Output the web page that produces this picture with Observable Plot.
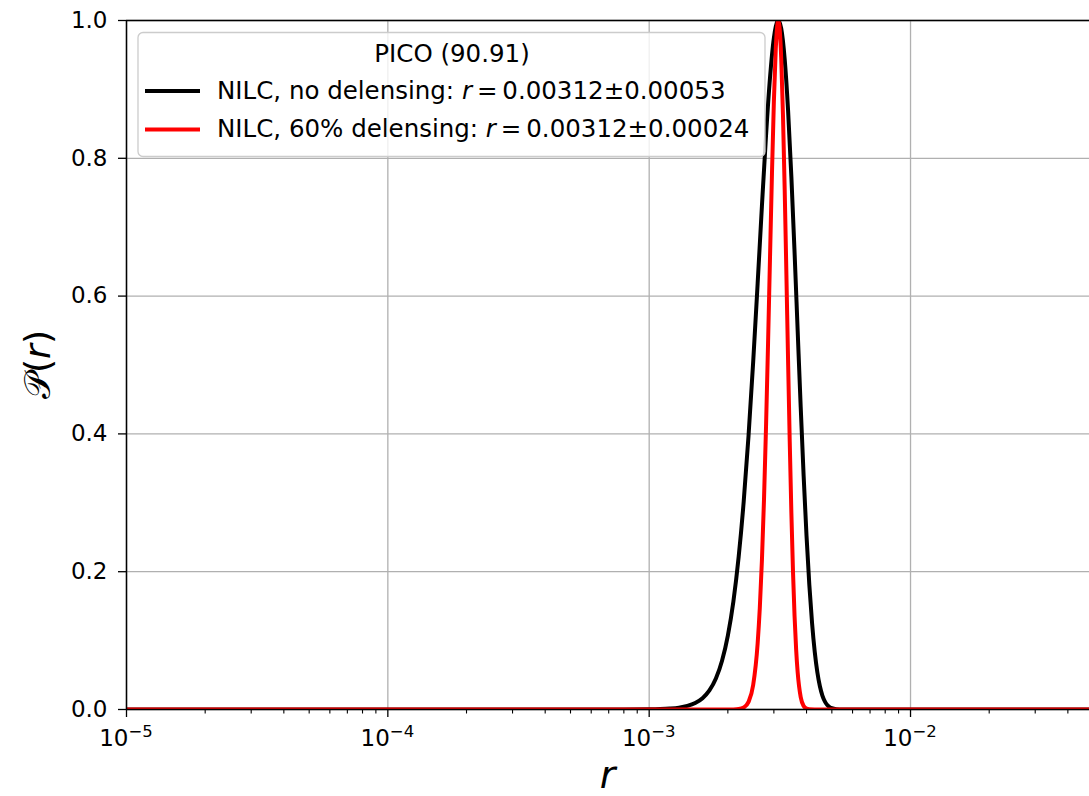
<!DOCTYPE html>
<html><head><meta charset="utf-8">
<script src="https://cdn.jsdelivr.net/npm/d3@7"></script>
<script src="https://cdn.jsdelivr.net/npm/@observablehq/plot@0.6"></script>
<style>body{margin:0;background:#fff} svg{display:block}</style>
</head><body><div id="chart"></div>
<script>
// NILC, no delensing
const rBlack = [0.00001, 0.0008, 0.0010, 0.0011, 0.0012, 0.0013, 0.0014, 0.0015, 0.0016, 0.0017, 0.0018, 0.0019, 0.0020, 0.0021, 0.0022, 0.0023, 0.0024, 0.0025, 0.0026, 0.0027, 0.0028, 0.0029, 0.0030, 0.0031, 0.00312, 0.0032, 0.0033, 0.0034, 0.0035, 0.0036, 0.0037, 0.0038, 0.0039, 0.0040, 0.0041, 0.0042, 0.0043, 0.0044, 0.0045, 0.0046, 0.0047, 0.0048, 0.0049, 0.0050, 0.0052, 0.0055, 0.0060, 0.05];
const pBlack = [0, 0.00007, 0.00034, 0.0007, 0.0014, 0.0027, 0.0052, 0.0094, 0.0164, 0.0276, 0.0449, 0.0707, 0.1073, 0.1568, 0.2216, 0.302, 0.3975, 0.5044, 0.618, 0.7305, 0.8334, 0.9174, 0.9747, 0.9993, 1.0, 0.9887, 0.944, 0.8697, 0.7734, 0.6635, 0.5494, 0.4391, 0.3386, 0.2519, 0.1809, 0.1254, 0.0839, 0.0541, 0.0337, 0.0203, 0.0118, 0.0066, 0.0036, 0.0019, 0.00045, 0.00003, 0, 0];
// NILC, 60% delensing
const rRed = [0.00001, 0.0020, 0.0021, 0.0022, 0.0023, 0.0024, 0.0025, 0.0026, 0.00265, 0.0027, 0.00275, 0.0028, 0.00285, 0.0029, 0.00295, 0.0030, 0.00305, 0.0031, 0.00312, 0.00315, 0.0032, 0.00325, 0.0033, 0.00335, 0.0034, 0.00345, 0.0035, 0.00355, 0.0036, 0.00365, 0.0037, 0.0038, 0.0039, 0.0040, 0.0041, 0.0043, 0.05];
const pRed = [0, 0.00001, 0.00012, 0.00065, 0.0029, 0.0111, 0.0355, 0.0956, 0.147, 0.2163, 0.3047, 0.4111, 0.5311, 0.657, 0.778, 0.8825, 0.9584, 0.9965, 1.0, 0.9922, 0.946, 0.8635, 0.7548, 0.6318, 0.5063, 0.3886, 0.2855, 0.2009, 0.1353, 0.0873, 0.0539, 0.0181, 0.0051, 0.0012, 0.00024, 0, 0];

const seriesNames = ["NILC, no delensing", "NILC, 60% delensing"];
const seriesMeans = ["0.00312", "0.00312"];
const seriesErrs = ["0.00053", "0.00024"];
const seriesColors = ["#000000", "#ff0000"];
const legendTitle = "PICO (90.91)";

const xMajor = [1e-5, 1e-4, 1e-3, 1e-2];
const xMajorExp = ["−5", "−4", "−3", "−2"];
const yTicks = [0, 0.2, 0.4, 0.6, 0.8, 1.0];
const xMinor = [];
for (const d of [1e-5, 1e-4, 1e-3, 1e-2]) for (let k = 2; k <= 9; k++) if (d * k <= 0.0484) xMinor.push(d * k);

const black = rBlack.map((r, i) => ({r, p: pBlack[i]}));
const red = rRed.map((r, i) => ({r, p: pRed[i]}));

const W = 1089, H = 796, ML = 126;
const plot = Plot.plot({
  width: W, height: H,
  marginLeft: ML, marginRight: 0, marginTop: 20, marginBottom: 87,
  style: {fontFamily: "DejaVu Sans", fontSize: "23px", color: "#000", background: "#fff", overflow: "visible"},
  x: {type: "log", domain: [1e-5, 0.0484], label: null},
  y: {domain: [0, 1], label: null},
  marks: [
    Plot.gridX({ticks: xMajor, stroke: "#b0b0b0", strokeOpacity: 1, strokeWidth: 1.3}),
    Plot.gridY({ticks: yTicks, stroke: "#b0b0b0", strokeOpacity: 1, strokeWidth: 1.3}),
    Plot.line(black, {x: "r", y: "p", stroke: seriesColors[0], strokeWidth: 4, curve: "monotone-x", clip: true}),
    Plot.line(red, {x: "r", y: "p", stroke: seriesColors[1], strokeWidth: 4, curve: "monotone-x", clip: true}),
    Plot.axisX({ticks: xMinor, tickSize: 4.5, tickFormat: () => "", strokeWidth: 1.1, label: null}),
    Plot.axisX({ticks: xMajor, tickSize: 8, tickFormat: () => "", strokeWidth: 1.3, label: null}),
    Plot.axisY({ticks: yTicks, tickSize: 8, tickPadding: 11, tickFormat: d3.format(".1f"), strokeWidth: 1.3, label: null, fontSize: 23}),
    Plot.ruleX([1e-5], {stroke: "#000", strokeWidth: 1.5}),
    Plot.ruleY([0], {stroke: "#000", strokeWidth: 1.5}),
    Plot.ruleY([1], {stroke: "#000", strokeWidth: 1.5})
  ]
});
document.getElementById("chart").appendChild(plot);

const svg = d3.select(plot);
const xs = plot.scale("x"), ys = plot.scale("y");
const y0 = ys.apply(0), y1 = ys.apply(1);

// x tick labels with superscripts
xMajor.forEach((v, i) => {
  const t = svg.append("text")
    .attr("x", xs.apply(v)).attr("y", y0 + 37)
    .attr("text-anchor", "middle")
    .attr("font-family", "DejaVu Sans").attr("font-size", 23).attr("fill", "#000");
  t.append("tspan").text("10");
  t.append("tspan").attr("dy", -9.5).attr("font-size", 16.5).text(xMajorExp[i]);
});

// axis labels
svg.append("text")
  .attr("x", (ML + W) / 2).attr("y", H - 8)
  .attr("text-anchor", "middle")
  .attr("font-family", "DejaVu Sans").attr("font-style", "italic").attr("font-size", 38)
  .text("r");
const yl = svg.append("text")
  .attr("transform", `translate(50,${(y1 + y0) / 2}) rotate(-90)`)
  .attr("text-anchor", "middle")
  .attr("font-family", "DejaVu Sans").attr("font-size", 36);
yl.append("tspan").text("𝒫(");
yl.append("tspan").attr("font-style", "italic").text("r");
yl.append("tspan").text(")");

// legend
const lg = svg.append("g");
lg.append("rect").attr("x", 138).attr("y", 32.5).attr("width", 627).attr("height", 124).attr("rx", 5)
  .attr("fill", "#fff").attr("fill-opacity", 0.8).attr("stroke", "#cccccc").attr("stroke-width", 1.3);
lg.append("text").attr("x", 452).attr("y", 61.5).attr("text-anchor", "middle")
  .attr("font-family", "DejaVu Sans").attr("font-size", 24.5).text(legendTitle);
seriesNames.forEach((name, i) => {
  const yy = 91 + i * 38.5;
  lg.append("line").attr("x1", 145).attr("x2", 200).attr("y1", yy).attr("y2", yy)
    .attr("stroke", seriesColors[i]).attr("stroke-width", 4);
  const t = lg.append("text").attr("x", 217).attr("y", yy + 7.5)
    .attr("text-anchor", "start")
    .attr("font-family", "DejaVu Sans").attr("font-size", 24.5);
  t.append("tspan").text(name + ": ");
  t.append("tspan").attr("font-style", "italic").text("r");
  t.append("tspan").text("\u2009=\u2009" + seriesMeans[i] + "±" + seriesErrs[i]);
});
</script></body></html>
